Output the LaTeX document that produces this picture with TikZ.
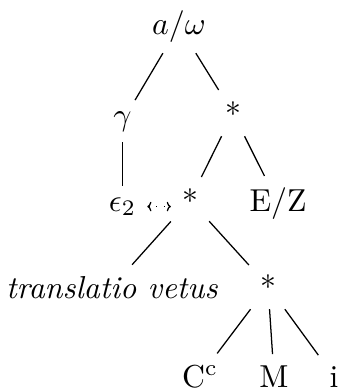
\documentclass[tikz,border=0pt]{standalone}
\usetikzlibrary{arrows.meta}
\begin{document}
\begin{tikzpicture}[x=0.315pt, y=-0.315pt,
  every node/.style={anchor=base, inner sep=0.3333em},
  edgeline/.style={draw, line width=0.4pt},
  dotarrow/.style={dotted, line width=0.4pt, {To[length=1.3pt,width=3pt]}-{To[length=1.3pt,width=3pt]}}]
\useasboundingbox (0,0) rectangle (339,389);
\node (root) at (179,34) {$a/\omega$};
\node (g) at (122.5,125) {$\gamma$};
\node (s1) at (233,125) {*};
\node (e) at (122.5,211) {$\epsilon_2$};
\node (s2) at (190,212) {*};
\node (ez) at (278,211) {E/Z};
\node (tv) at (112,298) {\textit{translatio vetus}};
\node (s3) at (268,298) {*};
\node (c) at (200,387) {C$^{\mathrm{c}}$};
\node (m) at (274,387) {M};
\node (i) at (334,387) {i};
\draw[edgeline] (root) -- (g);
\draw[edgeline] (root) -- (s1);
\draw[edgeline] (g) -- (e);
\draw[edgeline] (s1) -- (s2);
\draw[edgeline] (s1) -- (ez);
\draw[edgeline] (s2) -- (tv);
\draw[edgeline] (s2) -- (s3);
\draw[edgeline] (s3) -- (c);
\draw[edgeline] (s3) -- (m);
\draw[edgeline] (s3) -- (i);
\draw[dotarrow] (e.east) -- (e.east -| s2.west);
\end{tikzpicture}
\end{document}
